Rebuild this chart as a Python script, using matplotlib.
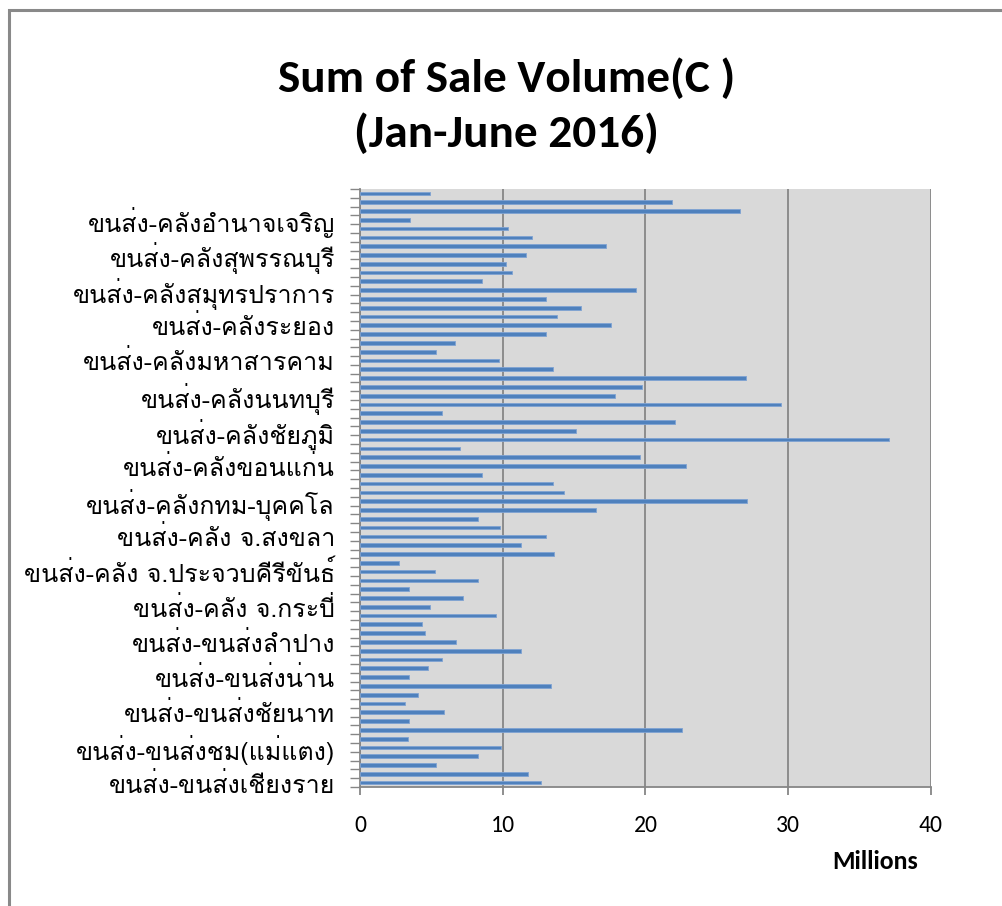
import matplotlib
matplotlib.use("Agg")
import matplotlib.pyplot as plt
from matplotlib.patches import Rectangle
from matplotlib.ticker import FixedLocator

# Sale volume per depot, in millions, bottom row first
volumes = [
    12.68, 11.8, 5.33, 8.29, 9.9, 3.34, 22.56, 3.43, 5.86, 3.18,
    4.06, 13.41, 3.43, 4.79, 5.77, 11.26, 6.75, 4.53, 4.34, 9.55,
    4.88, 7.22, 3.43, 8.29, 5.23, 2.71, 13.6, 11.26, 13.06, 9.81,
    8.29, 16.54, 27.14, 14.3, 13.5, 8.57, 22.82, 19.6, 7.03, 37.07,
    15.11, 22.1, 5.77, 29.48, 17.89, 19.76, 27.05, 13.5, 9.72, 5.33,
    6.68, 13.06, 17.55, 13.78, 15.46, 13.06, 19.34, 8.57, 10.63, 10.26,
    11.61, 17.26, 12.05, 10.35, 3.53, 26.6, 21.84, 4.88,
]

# only every fourth category gets a visible label
label_step = 4
depot_labels = [
    "ขนส่ง-ขนส่งเชียงราย",
    "ขนส่ง-ขนส่งชม(แม่แตง)",
    "ขนส่ง-ขนส่งชัยนาท",
    "ขนส่ง-ขนส่งน่าน",
    "ขนส่ง-ขนส่งลำปาง",
    "ขนส่ง-คลัง จ.กระบี่",
    "ขนส่ง-คลัง จ.ประจวบคีรีขันธ์",
    "ขนส่ง-คลัง จ.สงขลา",
    "ขนส่ง-คลังกทม-บุคคโล",
    "ขนส่ง-คลังขอนแก่น",
    "ขนส่ง-คลังชัยภูมิ",
    "ขนส่ง-คลังนนทบุรี",
    "ขนส่ง-คลังมหาสารคาม",
    "ขนส่ง-คลังระยอง",
    "ขนส่ง-คลังสมุทรปราการ",
    "ขนส่ง-คลังสุพรรณบุรี",
    "ขนส่ง-คลังอำนาจเจริญ",
]
x_ticks = [0, 10, 20, 30, 40]

LATIN = ["Carlito", "Lato", "DejaVu Sans"]
THAI = ["Loma", "DejaVu Sans"]
BAR = "#4F81BD"
GRID = "#868686"

plt.rcParams["font.family"] = LATIN

fig = plt.figure(figsize=(10.03, 9.06), dpi=100)
ax = fig.add_axes([0.3589, 0.1313, 0.5693, 0.6601])

pos = list(range(len(volumes)))
ax.barh(pos, volumes, height=0.42, color=BAR, edgecolor="#7FA3D3",
        linewidth=0.6, zorder=3)

ax.set_facecolor("#D9D9D9")
ax.set_xlim(0, 40)
ax.set_ylim(-0.5, len(volumes) - 0.5)

ax.set_xticks(x_ticks)
ax.set_xticklabels([str(t) for t in x_ticks], fontsize=17)
ax.grid(axis="x", color=GRID, linewidth=1.3, zorder=1)
ax.tick_params(axis="x", direction="out", length=6, width=1.3,
               color=GRID, pad=14)

ax.set_yticks(pos[::label_step])
ax.set_yticklabels(depot_labels, family=THAI, fontsize=18)
ax.yaxis.set_minor_locator(FixedLocator([p - 0.5 for p in pos] + [pos[-1] + 0.5]))
ax.tick_params(axis="y", which="major", length=0, pad=18)
ax.tick_params(axis="y", which="minor", direction="out", length=7,
               width=1.0, color=GRID)

for side in ("top", "right"):
    ax.spines[side].set_visible(False)
for side in ("left", "bottom"):
    ax.spines[side].set_color(GRID)
    ax.spines[side].set_linewidth(1.3)

fig.text(0.505, 0.914, "Sum of Sale Volume(C )", ha="center", va="center",
         fontsize=34, fontweight="bold")
fig.text(0.505, 0.853, "(Jan-June 2016)", ha="center", va="center",
         fontsize=34, fontweight="bold")
fig.text(0.873, 0.049, "Millions", ha="center", va="center",
         fontsize=18.5, fontweight="bold")

# outer chart frame (only left and top edges fall inside the canvas)
fig.patches.append(Rectangle((0.0093, -0.1), 1.2, 1.0893, transform=fig.transFigure,
                             fill=False, edgecolor="#898989", linewidth=2.2))

fig.savefig("out.png", dpi=100)
